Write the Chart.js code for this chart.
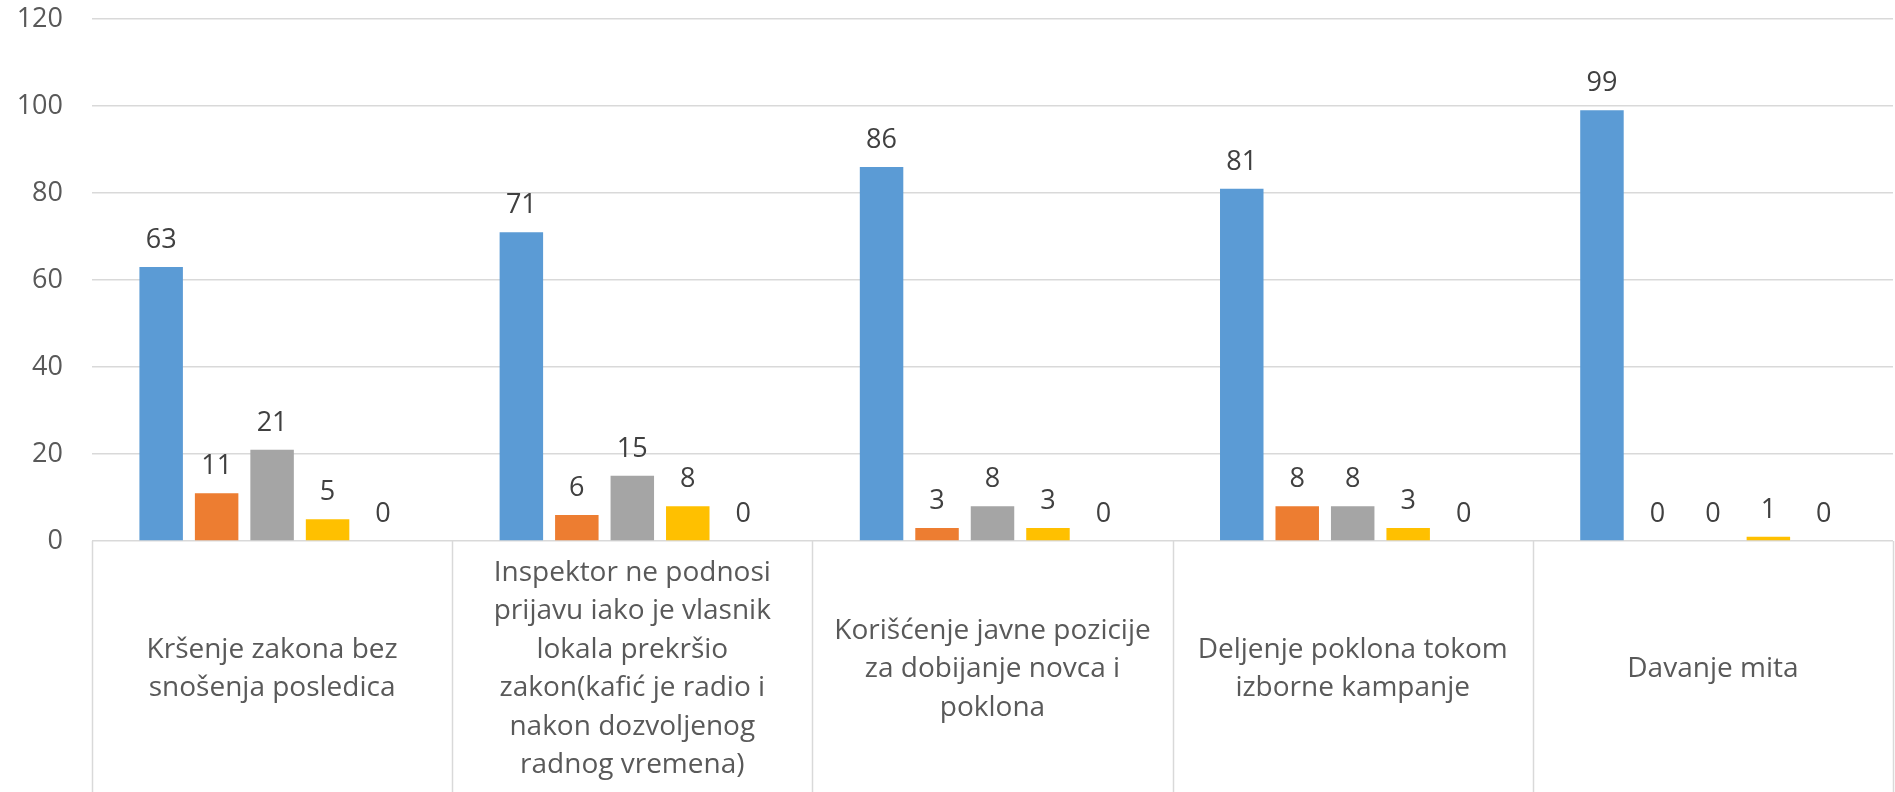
<!DOCTYPE html>
<html>
<head>
<meta charset="utf-8">
<script src="https://cdn.jsdelivr.net/npm/chart.js@4.4.1/dist/chart.umd.min.js"></script>
<style>
  html, body { margin: 0; padding: 0; background: #ffffff; }
  #wrap { width: 1895px; height: 792px; }
</style>
</head>
<body>
<div id="wrap"><canvas id="c" width="1895" height="792"></canvas></div>
<script>
const categories = [
  ["Kršenje zakona bez", "snošenja posledica"],
  ["Inspektor ne podnosi", "prijavu iako je vlasnik", "lokala prekršio", "zakon(kafić je radio i", "nakon dozvoljenog", "radnog vremena)"],
  ["Korišćenje javne pozicije", "za dobijanje novca i", "poklona"],
  ["Deljenje poklona tokom", "izborne kampanje"],
  ["Davanje mita"]
];
const seriesNames = ["Serija 1", "Serija 2", "Serija 3", "Serija 4", "Serija 5"];
const series1 = [63, 71, 86, 81, 99];
const series2 = [11, 6, 3, 8, 0];
const series3 = [21, 15, 8, 8, 0];
const series4 = [5, 8, 3, 3, 1];
const series5 = [0, 0, 0, 0, 0];
const seriesColors = ["#5B9BD5", "#ED7D31", "#A5A5A5", "#FFC000", "#4472C4"];
const yTicks = [0, 20, 40, 60, 80, 100, 120];

const FONT = "'Open Sans', 'Noto Sans', sans-serif";
const allSeries = [series1, series2, series3, series4, series5];

const valueLabels = {
  id: 'valueLabels',
  afterDatasetsDraw(chart) {
    const ctx = chart.ctx;
    ctx.save();
    ctx.font = "27px " + FONT;
    ctx.fillStyle = "#404040";
    ctx.textAlign = "center";
    ctx.textBaseline = "alphabetic";
    chart.data.datasets.forEach((ds, di) => {
      const meta = chart.getDatasetMeta(di);
      meta.data.forEach((el, i) => {
        ctx.fillText(String(ds.data[i]), el.x, el.y - 19);
      });
    });
    ctx.restore();
  }
};

const separators = {
  id: 'separators',
  afterDraw(chart) {
    const x = chart.scales.x;
    const ctx = chart.ctx;
    const n = chart.data.labels.length;
    const step = x.getPixelForValue(1) - x.getPixelForValue(0);
    ctx.save();
    ctx.strokeStyle = "#D9D9D9";
    ctx.lineWidth = 1.5;
    for (let i = 0; i <= n; i++) {
      const px = Math.round(x.getPixelForValue(0) - step / 2 + i * step) + 0.5;
      ctx.beginPath();
      ctx.moveTo(px, chart.chartArea.bottom);
      ctx.lineTo(px, chart.height);
      ctx.stroke();
    }
    ctx.restore();
  }
};

new Chart(document.getElementById('c'), {
  type: 'bar',
  data: {
    labels: categories,
    datasets: allSeries.map((d, i) => ({
      label: seriesNames[i],
      data: d,
      backgroundColor: seriesColors[i],
      borderWidth: 0,
      categoryPercentage: 0.77,
      barPercentage: 0.784
    }))
  },
  options: {
    responsive: false,
    animation: false,
    devicePixelRatio: 1,
    layout: { padding: { left: 0, right: 2, top: 0, bottom: 0 } },
    plugins: {
      legend: { display: false },
      tooltip: { enabled: false },
      title: { display: false }
    },
    scales: {
      x: {
        afterFit(scale) { scale.height = 251; },
        grid: { display: false },
        border: { display: false },
        ticks: {
          font: { family: FONT, size: 28, lineHeight: 1.375 },
          color: "#595959",
          padding: 24,
          maxRotation: 0,
          minRotation: 0,
          autoSkip: false,
          crossAlign: 'center'
        }
      },
      y: {
        min: 0,
        max: 120,
        afterBuildTicks(scale) { scale.ticks = yTicks.map(v => ({ value: v })); },
        afterFit(scale) { scale.width = 92; scale.paddingTop = 19; scale.paddingBottom = 0; },
        grid: { color: "#D9D9D9", lineWidth: 1.5, drawTicks: false },
        border: { display: false },
        ticks: {
          font: { family: FONT, size: 27, lineHeight: 1.4 },
          color: "#595959",
          padding: 29
        }
      }
    }
  },
  plugins: [valueLabels, separators]
});
</script>
</body>
</html>
